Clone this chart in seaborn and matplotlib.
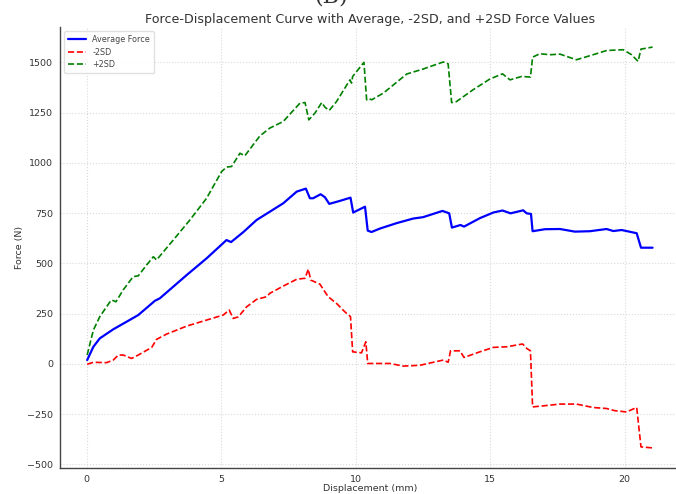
import numpy as np
import pandas as pd
import matplotlib
matplotlib.use("Agg")
import matplotlib.pyplot as plt
import seaborn as sns

# ---- data ----
avg_x = [0.02, 0.25, 0.49, 0.99, 1.49, 1.92, 2.54, 2.72, 3.72, 4.46, 5.20, 5.37, 5.82, 6.32, 6.81,
         7.31, 7.81, 8.15, 8.30, 8.42, 8.70, 8.86, 9.02, 9.42, 9.81, 9.91, 10.35, 10.45, 10.59,
         10.90, 11.52, 12.14, 12.51, 13.23, 13.48, 13.58, 13.90, 14.03, 14.62, 15.12, 15.46,
         15.76, 16.23, 16.36, 16.52, 16.58, 17.04, 17.60, 18.15, 18.71, 19.33, 19.58, 19.89,
         20.45, 20.61, 21.04]
avg_y = [19, 85, 127, 172, 210, 243, 314, 326, 442, 525, 616, 606, 655, 716, 757,
         799, 857, 872, 824, 824, 844, 829, 796, 811, 827, 753, 782, 663, 656,
         673, 700, 723, 730, 761, 749, 678, 691, 683, 725, 753, 763,
         749, 764, 749, 746, 660, 670, 671, 658, 660, 671, 661, 666,
         650, 578, 578]

plus_x = [0.02, 0.25, 0.49, 0.87, 0.93, 1.09, 1.36, 1.73, 1.92, 2.23, 2.48, 2.60, 3.22, 3.84,
          4.46, 5.02, 5.20, 5.39, 5.70, 5.88, 6.44, 6.81, 7.31, 7.93, 8.12, 8.26, 8.49, 8.74,
          8.86, 9.02, 9.29, 9.79, 9.85, 9.89, 10.31, 10.41, 10.48, 10.60, 11.03, 11.90, 12.51,
          13.26, 13.44, 13.57, 13.75, 14.37, 14.99, 15.46, 15.74, 16.17, 16.50, 16.58, 16.85,
          17.22, 17.60, 18.21, 18.83, 19.33, 19.95, 20.26, 20.50, 20.61, 21.04]
plus_y = [44, 168, 235, 309, 318, 309, 368, 434, 438, 492, 533, 517, 616, 716,
          824, 957, 979, 982, 1048, 1035, 1134, 1173, 1206, 1297, 1300, 1214, 1248, 1300,
          1277, 1261, 1305, 1413, 1397, 1430, 1500, 1314, 1320, 1314, 1347, 1442, 1467,
          1502, 1493, 1300, 1305, 1364, 1417, 1443, 1413, 1430, 1427, 1526, 1543,
          1538, 1541, 1513, 1538, 1559, 1563, 1538, 1505, 1566, 1576]

minus_x = [0.02, 0.25, 0.74, 0.99, 1.18, 1.36, 1.67, 1.92, 2.42, 2.60, 2.97, 3.72, 4.46, 5.08,
           5.30, 5.45, 5.64, 5.95, 6.32, 6.69, 6.81, 7.31, 7.81, 8.12, 8.24, 8.33, 8.67, 8.98,
           9.29, 9.60, 9.81, 9.89, 10.22, 10.38, 10.45, 11.28, 11.77, 12.39, 13.26, 13.44,
           13.53, 13.88, 14.03, 14.62, 15.12, 15.61, 16.21, 16.36, 16.50, 16.58, 16.97, 17.60,
           18.21, 18.83, 19.33, 19.64, 20.07, 20.45, 20.61, 21.04]
minus_y = [-2, 8, 6, 19, 44, 44, 27, 44, 82, 122, 148, 188, 218, 243,
           268, 226, 234, 284, 321, 334, 351, 387, 421, 426, 471, 417, 397, 334,
           301, 259, 235, 60, 55, 110, 2, 2, -11, -7, 19, 8,
           65, 65, 32, 60, 82, 85, 99, 77, 65, -214, -209, -200,
           -200, -217, -222, -233, -239, -217, -413, -418]

x_ticks = [0, 5, 10, 15, 20]
y_ticks = [-500, -250, 0, 250, 500, 750, 1000, 1250, 1500]

# ---- figure ----
sns.set_style("white")
plt.rcParams["font.family"] = ["DejaVu Sans"]

fig = plt.figure(figsize=(6.76, 4.94), dpi=100)
ax = fig.add_axes([60 / 676, 26 / 494, 620 / 676, 441 / 494])

df_avg = pd.DataFrame({"x": avg_x, "y": avg_y})
df_minus = pd.DataFrame({"x": minus_x, "y": minus_y})
df_plus = pd.DataFrame({"x": plus_x, "y": plus_y})

sns.lineplot(data=df_avg, x="x", y="y", ax=ax, color="blue", linewidth=1.6,
             sort=False, estimator=None, label="Average Force")
sns.lineplot(data=df_minus, x="x", y="y", ax=ax, color="red", linewidth=1.2,
             linestyle="--", sort=False, estimator=None, label="-2SD")
sns.lineplot(data=df_plus, x="x", y="y", ax=ax, color="green", linewidth=1.2,
             linestyle="--", sort=False, estimator=None, label="+2SD")

ax.set_xlim(-0.99, 22.06)
ax.set_ylim(-518, 1676)
ax.set_xticks(x_ticks)
ax.set_yticks(y_ticks)
ax.grid(True, linestyle=":", color="#dadada", linewidth=0.8)
ax.set_axisbelow(True)

for s in ["top", "right"]:
    ax.spines[s].set_visible(False)
for s in ["left", "bottom"]:
    ax.spines[s].set_color("#444444")
    ax.spines[s].set_linewidth(1.0)

ax.tick_params(axis="both", labelsize=6.8, length=3, width=0.8, color="#444444",
               labelcolor="#333333", pad=2)
ax.set_xlabel("Displacement (mm)", fontsize=6.8, color="#333333", labelpad=0)
ax.set_ylabel("Force (N)", fontsize=6.8, color="#333333", labelpad=2)
ax.set_title("Force-Displacement Curve with Average, -2SD, and +2SD Force Values",
             fontsize=9.1, color="#333333", pad=3)

leg = ax.legend(loc="upper left", fontsize=5.8, frameon=True, framealpha=0.9,
                edgecolor="#dddddd", borderpad=0.5, labelspacing=0.45, handlelength=2.2)
for t in leg.get_texts():
    t.set_color("#444444")

fig.text(0.49, 487 / 494, "(B)", ha="center", va="bottom", fontsize=16, color="#333333",
         family="DejaVu Serif")

fig.savefig("out.png", dpi=100)
